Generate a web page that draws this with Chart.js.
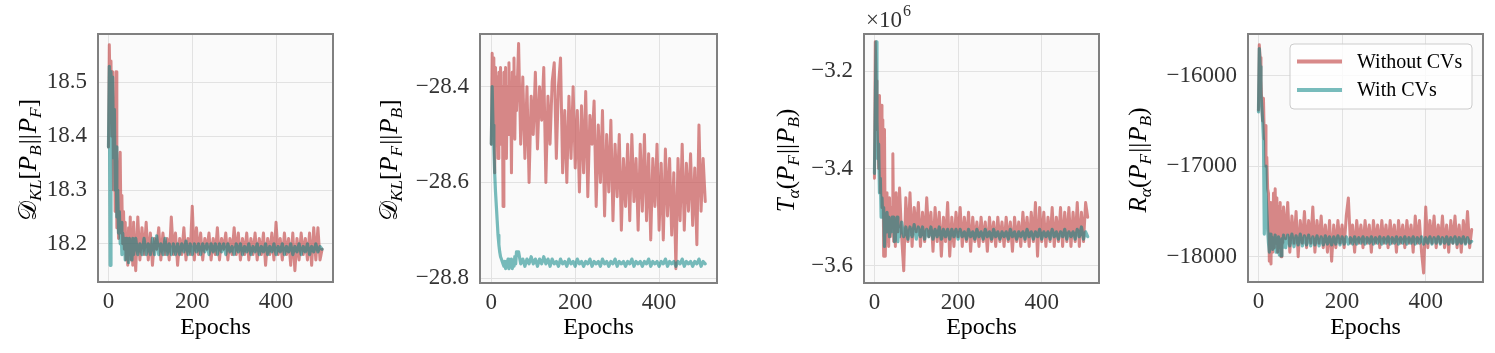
<!DOCTYPE html>
<html><head><meta charset="utf-8">
<script src="https://cdn.jsdelivr.net/npm/chart.js@4.4.1/dist/chart.umd.min.js"></script>
<style>
html,body{margin:0;padding:0;background:#fff;}
#wrap{position:relative;width:1495px;height:353px;overflow:hidden;background:#fff;}
canvas{position:absolute;top:0;}
</style></head><body>
<div id="wrap">
<canvas id="c1" width="345" height="353" style="left:0px;width:345px;height:353px"></canvas>
<canvas id="c2" width="360" height="353" style="left:370px;width:360px;height:353px"></canvas>
<canvas id="c3" width="370" height="353" style="left:740px;width:370px;height:353px"></canvas>
<canvas id="c4" width="375" height="353" style="left:1120px;width:375px;height:353px"></canvas>
</div>
<script>
// ---------- data ----------
const epochs = [0,2,4,6,8,10,12,14,16,18,20,22,24,26,28,30,32,34,36,38,40,42,44,46,48,50,52,54,56,58,60,
65,70,75,80,85,90,95,100,105,110,
115,120,125,130,135,140,145,150,155,160,
165,170,175,180,185,190,195,200,205,210,
215,220,225,230,235,240,245,250,255,260,
265,270,275,280,285,290,295,300,305,310,
315,320,325,330,335,340,345,350,355,360,
365,370,375,380,385,390,395,400,405,410,
415,420,425,430,435,440,445,450,455,460,
465,470,475,480,485,490,495,500,505,510];

const seriesLabels = ['Without CVs', 'With CVs'];

// Panel 1: D_KL[P_B||P_F]
const klBF_without = [18.38,18.57,18.48,18.54,18.40,18.52,18.30,18.45,18.26,18.52,
18.23,18.30,18.21,18.33,18.37,18.22,18.29,18.20,18.26,18.19,
18.24,18.17,18.22,18.16,18.23,18.18,18.25,18.17,18.21,18.16,18.24,
18.15,18.25,18.17,18.23,18.18,18.24,18.17,18.22,18.16,18.21,
18.19,18.23,18.17,18.22,18.18,18.21,18.17,18.25,18.18,18.22,
18.16,18.21,18.18,18.23,18.17,18.21,18.18,18.27,18.17,18.23,
18.18,18.22,18.17,18.21,18.19,18.22,18.17,18.21,18.18,18.23,
18.17,18.21,18.19,18.22,18.17,18.21,18.18,18.23,18.18,18.22,
18.17,18.21,18.18,18.22,18.17,18.21,18.18,18.22,18.17,18.21,
18.18,18.22,18.16,18.21,18.18,18.22,18.17,18.24,18.18,18.21,
18.17,18.22,18.18,18.21,18.16,18.22,18.15,18.21,18.17,18.22,
18.18,18.21,18.17,18.22,18.16,18.23,18.17,18.23,18.17,18.19];
const klBF_with = [18.38,18.53,18.16,18.52,18.44,18.51,18.36,18.45,18.30,18.38,
18.25,18.30,18.22,18.26,18.20,18.24,18.18,18.22,18.19,18.21,
18.17,18.21,18.18,18.20,18.165,18.21,18.18,18.20,18.17,18.21,18.18,
18.21,18.18,18.20,18.18,18.21,18.18,18.20,18.18,18.21,18.18,
18.215,18.18,18.20,18.18,18.21,18.18,18.20,18.18,18.20,18.18,
18.20,18.18,18.20,18.185,18.205,18.18,18.20,18.18,18.20,18.185,
18.20,18.18,18.20,18.185,18.20,18.18,18.20,18.185,18.20,18.18,
18.20,18.185,18.20,18.18,18.20,18.185,18.195,18.18,18.20,18.185,
18.20,18.18,18.195,18.185,18.20,18.18,18.195,18.185,18.20,18.18,
18.195,18.185,18.20,18.18,18.195,18.185,18.20,18.18,18.195,18.185,
18.20,18.18,18.195,18.185,18.20,18.18,18.195,18.185,18.20,18.18,
18.195,18.185,18.20,18.18,18.195,18.185,18.20,18.185,18.195,18.19];

// Panel 2: D_KL[P_F||P_B]
const klFB_without = [-28.52,-28.33,-28.45,-28.34,-28.58,-28.36,-28.50,-28.38,-28.55,-28.37,
-28.47,-28.36,-28.52,-28.40,-28.65,-28.37,-28.49,-28.36,-28.55,-28.40,
-28.50,-28.35,-28.47,-28.39,-28.58,-28.37,-28.46,-28.34,-28.51,-28.38,-28.45,
-28.31,-28.52,-28.38,-28.55,-28.40,-28.60,-28.42,-28.50,-28.37,-28.53,
-28.40,-28.47,-28.36,-28.60,-28.42,-28.52,-28.39,-28.35,-28.55,-28.40,
-28.34,-28.58,-28.45,-28.60,-28.42,-28.55,-28.40,-28.57,-28.45,-28.62,
-28.44,-28.58,-28.41,-28.63,-28.46,-28.52,-28.43,-28.65,-28.48,-28.60,
-28.45,-28.67,-28.50,-28.62,-28.47,-28.68,-28.52,-28.63,-28.50,-28.70,
-28.55,-28.65,-28.52,-28.68,-28.50,-28.64,-28.55,-28.70,-28.52,-28.66,
-28.50,-28.68,-28.54,-28.72,-28.55,-28.65,-28.52,-28.70,-28.56,-28.72,
-28.53,-28.67,-28.55,-28.71,-28.58,-28.78,-28.55,-28.68,-28.52,-28.70,
-28.56,-28.66,-28.54,-28.69,-28.57,-28.73,-28.48,-28.66,-28.55,-28.64];
const klFB_with = [-28.52,-28.40,-28.48,-28.53,-28.58,-28.62,-28.65,-28.68,-28.71,-28.73,
-28.745,-28.755,-28.76,-28.765,-28.77,-28.775,-28.765,-28.78,-28.765,-28.775,
-28.76,-28.78,-28.765,-28.775,-28.76,-28.78,-28.765,-28.775,-28.755,-28.77,-28.745,
-28.745,-28.77,-28.76,-28.775,-28.76,-28.77,-28.755,-28.77,-28.76,-28.775,
-28.76,-28.77,-28.755,-28.77,-28.76,-28.775,-28.76,-28.77,-28.765,-28.775,
-28.76,-28.77,-28.765,-28.775,-28.76,-28.77,-28.765,-28.775,-28.76,-28.77,
-28.765,-28.775,-28.765,-28.77,-28.76,-28.775,-28.765,-28.77,-28.765,-28.775,
-28.76,-28.77,-28.765,-28.775,-28.765,-28.77,-28.76,-28.775,-28.765,-28.77,
-28.765,-28.775,-28.765,-28.77,-28.76,-28.775,-28.765,-28.77,-28.765,-28.775,
-28.765,-28.77,-28.76,-28.775,-28.765,-28.77,-28.765,-28.775,-28.765,-28.77,
-28.76,-28.775,-28.765,-28.77,-28.765,-28.775,-28.765,-28.77,-28.76,-28.775,
-28.765,-28.77,-28.765,-28.775,-28.765,-28.77,-28.76,-28.775,-28.765,-28.77];

// Panel 3: T_alpha(P_F||P_B), in units of 1e6
const tsallis_without = [-3.42,-3.14,-3.22,-3.32,-3.28,-3.40,-3.25,-3.45,-3.27,-3.48,
-3.30,-3.58,-3.32,-3.58,-3.45,-3.55,-3.47,-3.56,-3.46,-3.54,
-3.48,-3.52,-3.37,-3.55,-3.47,-3.56,-3.45,-3.53,-3.46,-3.52,-3.44,
-3.54,-3.61,-3.46,-3.55,-3.45,-3.56,-3.48,-3.53,-3.47,-3.56,
-3.49,-3.55,-3.46,-3.54,-3.49,-3.57,-3.48,-3.55,-3.49,-3.58,
-3.50,-3.55,-3.47,-3.58,-3.50,-3.56,-3.49,-3.54,-3.48,-3.56,
-3.50,-3.55,-3.49,-3.57,-3.50,-3.55,-3.51,-3.56,-3.50,-3.55,
-3.51,-3.57,-3.50,-3.55,-3.51,-3.56,-3.50,-3.55,-3.51,-3.56,
-3.50,-3.55,-3.51,-3.57,-3.50,-3.55,-3.51,-3.56,-3.49,-3.55,
-3.50,-3.56,-3.49,-3.55,-3.47,-3.58,-3.48,-3.55,-3.49,-3.56,
-3.50,-3.55,-3.48,-3.56,-3.50,-3.55,-3.48,-3.56,-3.49,-3.55,
-3.48,-3.56,-3.49,-3.55,-3.47,-3.56,-3.49,-3.55,-3.47,-3.50];
const tsallis_with = [-3.41,-3.27,-3.14,-3.30,-3.38,-3.35,-3.45,-3.42,-3.50,-3.46,
-3.50,-3.48,-3.56,-3.50,-3.53,-3.49,-3.52,-3.50,-3.54,-3.51,
-3.53,-3.50,-3.52,-3.50,-3.55,-3.51,-3.53,-3.50,-3.55,-3.52,-3.54,
-3.51,-3.54,-3.52,-3.545,-3.52,-3.54,-3.515,-3.545,-3.52,-3.54,
-3.52,-3.545,-3.525,-3.54,-3.52,-3.545,-3.525,-3.54,-3.52,-3.545,
-3.525,-3.54,-3.525,-3.545,-3.525,-3.54,-3.525,-3.545,-3.525,-3.54,
-3.53,-3.545,-3.525,-3.54,-3.53,-3.545,-3.525,-3.54,-3.53,-3.545,
-3.525,-3.54,-3.53,-3.545,-3.525,-3.54,-3.53,-3.545,-3.53,-3.54,
-3.53,-3.545,-3.525,-3.54,-3.53,-3.545,-3.53,-3.54,-3.53,-3.545,
-3.525,-3.54,-3.53,-3.545,-3.53,-3.54,-3.525,-3.545,-3.53,-3.54,
-3.53,-3.545,-3.525,-3.54,-3.53,-3.545,-3.53,-3.54,-3.525,-3.545,
-3.53,-3.54,-3.53,-3.545,-3.525,-3.54,-3.52,-3.545,-3.53,-3.54];

// Panel 4: R_alpha(P_F||P_B)
const renyi_without = [-16380,-15660,-15800,-16050,-16300,-16500,-16250,-16700,-16550,-17000,
-16900,-17250,-17300,-18050,-17400,-18080,-17450,-17950,-17300,-17900,
-17250,-17850,-17350,-17950,-17450,-17900,-17400,-18000,-17500,-17850,-17450,
-17800,-17400,-17950,-17550,-17850,-17500,-18000,-17600,-17850,-17500,
-17900,-17600,-17850,-17450,-17950,-17600,-17850,-17550,-17900,-17650,
-17950,-17600,-18050,-17650,-17900,-17600,-17850,-17650,-17900,-17550,
-17350,-17850,-17650,-17950,-17600,-17850,-17650,-17900,-17600,-17850,
-17650,-17950,-17600,-17850,-17650,-17900,-17600,-17850,-17650,-17900,
-17600,-17850,-17650,-17950,-17600,-17850,-17650,-17900,-17600,-17850,
-17650,-17950,-17550,-17850,-17600,-17950,-18180,-17450,-17900,-17600,
-17850,-17550,-17900,-17650,-17850,-17550,-17900,-17650,-17950,-17600,
-17850,-17550,-17900,-17650,-17950,-17600,-17850,-17500,-17900,-17700];
const renyi_with = [-16400,-15700,-15900,-16200,-16350,-16500,-16700,-17750,-17000,-17300,
-17500,-17700,-17850,-17950,-17750,-17900,-17780,-17920,-17800,-17900,
-17760,-17950,-17800,-17900,-17780,-17980,-17820,-17990,-17800,-17900,-17760,
-17900,-17760,-17880,-17750,-17890,-17770,-17870,-17750,-17880,-17770,
-17870,-17760,-17880,-17780,-17870,-17770,-17880,-17780,-17870,-17770,
-17860,-17780,-17870,-17780,-17860,-17770,-17870,-17780,-17860,-17780,
-17860,-17790,-17860,-17780,-17860,-17790,-17850,-17780,-17860,-17790,
-17850,-17780,-17860,-17790,-17850,-17780,-17860,-17790,-17850,-17780,
-17860,-17790,-17850,-17780,-17860,-17790,-17850,-17780,-17860,-17790,
-17850,-17780,-17860,-17790,-17850,-17780,-17860,-17790,-17850,-17780,
-17860,-17790,-17850,-17780,-17860,-17790,-17850,-17780,-17860,-17790,
-17850,-17780,-17860,-17790,-17850,-17780,-17860,-17790,-17850,-17830];

// ticks
const xTicks = [0, 200, 400];
const xTickLabels = ['0', '200', '400'];
const yTicks1 = [18.2, 18.3, 18.4, 18.5];
const yTickLabels1 = ['18.2', '18.3', '18.4', '18.5'];
const yTicks2 = [-28.8, -28.6, -28.4];
const yTickLabels2 = ['\u221228.8', '\u221228.6', '\u221228.4'];
const yTicks3 = [-3.6, -3.4, -3.2];
const yTickLabels3 = ['\u22123.6', '\u22123.4', '\u22123.2'];
const yTicks4 = [-18000, -17000, -16000];
const yTickLabels4 = ['\u221218000', '\u221217000', '\u221216000'];

// ---------- style ----------
const RED = 'rgba(194,70,70,0.64)';
const TEAL = 'rgba(0,128,128,0.53)';
const SERIF = '"Liberation Serif", "Times New Roman", serif';

function drawRich(ctx, segs, cx, cy, size) {
  ctx.save();
  ctx.translate(cx, cy);
  ctx.rotate(-Math.PI / 2);
  let total = 0;
  const items = segs.map(s => {
    const fs = s.sub ? size * 0.7 : size;
    const font = (s.it ? 'italic ' : '') + fs + 'px ' + SERIF;
    ctx.font = font;
    const w = ctx.measureText(s.t).width + (s.gap || 0);
    total += w;
    return { t: s.t, sub: s.sub, font, w, gap: s.gap || 0 };
  });
  let x = -total / 2;
  ctx.fillStyle = '#000';
  ctx.textBaseline = 'alphabetic';
  ctx.textAlign = 'left';
  items.forEach(s => {
    ctx.font = s.font;
    ctx.fillText(s.t, x + s.gap / 2, s.sub ? size * 0.55 : size * 0.35);
    x += s.w;
  });
  ctx.restore();
}

const decor = {
  id: 'panelDecor',
  beforeDraw(chart) {
    const { ctx, chartArea: a } = chart;
    ctx.save();
    ctx.fillStyle = '#fafafa';
    ctx.fillRect(a.left, a.top, a.right - a.left, a.bottom - a.top);
    ctx.restore();
  },
  afterDraw(chart) {
    const { ctx, chartArea: a } = chart;
    const cfg = panelCfg[chart.canvas.id];
    ctx.save();
    ctx.strokeStyle = '#808080';
    ctx.lineWidth = 2;
    ctx.strokeRect(a.left, a.top, a.right - a.left, a.bottom - a.top);
    ctx.restore();
    drawRich(ctx, cfg.title, cfg.titleX, (a.top + a.bottom) / 2 + 2, 25);
    if (cfg.offsetText) {
      ctx.save();
      ctx.fillStyle = '#333';
      ctx.textBaseline = 'alphabetic';
      ctx.font = '23px ' + SERIF;
      const x0 = a.left + 2;
      ctx.fillText('\u00d710', x0, 27);
      const w = ctx.measureText('\u00d710').width;
      ctx.font = '16px ' + SERIF;
      ctx.fillText('6', x0 + w + 1, 16);
      ctx.restore();
    }
    if (cfg.legend) {
      const bx = a.right - 11 - 182, by = a.top + 10, bw = 182, bh = 65;
      ctx.save();
      ctx.beginPath();
      if (ctx.roundRect) ctx.roundRect(bx, by, bw, bh, 4); else ctx.rect(bx, by, bw, bh);
      ctx.fillStyle = 'rgba(255,255,255,0.8)';
      ctx.fill();
      ctx.strokeStyle = '#cccccc';
      ctx.lineWidth = 1;
      ctx.stroke();
      const ds = chart.data.datasets.slice().sort((p, q) => q.order - p.order);
      ds.forEach((d, i) => {
        const yy = by + 17.5 + i * 28.5;
        ctx.strokeStyle = d.borderColor;
        ctx.lineWidth = 4;
        ctx.beginPath();
        ctx.moveTo(bx + 7, yy);
        ctx.lineTo(bx + 52, yy);
        ctx.stroke();
        ctx.fillStyle = '#000';
        ctx.font = '20px ' + SERIF;
        ctx.textBaseline = 'middle';
        ctx.fillText(d.label, bx + 67, yy + 1);
      });
      ctx.restore();
    }
  }
};

const P = (t, extra) => Object.assign({ t }, extra || {});
const panelCfg = {
  c1: { without: klBF_without, withCV: klBF_with, yMin: 18.129, yMax: 18.59, yTicks: yTicks1, yLabels: yTickLabels1,
        yW: 98, rPad: 12, xH: 71, xMin: -25, xMax: 536, titleX: 27,
        title: [P('\ud835\udc9f'), P('KL', {it: 1, sub: 1}), P('['), P('P', {it: 1}), P('B', {it: 1, sub: 1}), P('||', {gap: 2}), P('P', {it: 1}), P('F', {it: 1, sub: 1}), P(']')] },
  c2: { without: klFB_without, withCV: klFB_with, yMin: -28.81, yMax: -28.29, yTicks: yTicks2, yLabels: yTickLabels2,
        yW: 110, rPad: 13, xH: 70, xMin: -27, xMax: 538, titleX: 18,
        title: [P('\ud835\udc9f'), P('KL', {it: 1, sub: 1}), P('['), P('P', {it: 1}), P('F', {it: 1, sub: 1}), P('||', {gap: 2}), P('P', {it: 1}), P('B', {it: 1, sub: 1}), P(']')] },
  c3: { without: tsallis_without, withCV: tsallis_with, yMin: -3.635, yMax: -3.124, yTicks: yTicks3, yLabels: yTickLabels3,
        yW: 124, rPad: 11, xH: 70, xMin: -25, xMax: 537, titleX: 45, offsetText: true,
        title: [P('T', {it: 1}), P('\u03b1', {it: 1, sub: 1}), P('('), P('P', {it: 1}), P('F', {it: 1, sub: 1}), P('||', {gap: 2}), P('P', {it: 1}), P('B', {it: 1, sub: 1}), P(')')] },
  c4: { without: renyi_without, withCV: renyi_with, yMin: -18279, yMax: -15540, yTicks: yTicks4, yLabels: yTickLabels4,
        yW: 128, rPad: 12, xH: 71, xMin: -25, xMax: 537, titleX: 17, legend: true,
        title: [P('R', {it: 1}), P('\u03b1', {it: 1, sub: 1}), P('('), P('P', {it: 1}), P('F', {it: 1, sub: 1}), P('||', {gap: 2}), P('P', {it: 1}), P('B', {it: 1, sub: 1}), P(')')] }
};

Object.keys(panelCfg).forEach(id => {
  const c = panelCfg[id];
  const toPts = arr => epochs.map((e, i) => ({ x: e, y: arr[i] }));
  new Chart(document.getElementById(id), {
    type: 'line',
    data: {
      datasets: [
        { label: seriesLabels[0], data: toPts(c.without), borderColor: RED, borderWidth: 3, order: 2,
          pointRadius: 0, tension: 0, borderJoinStyle: 'round', borderCapStyle: 'round', fill: false },
        { label: seriesLabels[1], data: toPts(c.withCV), borderColor: TEAL, borderWidth: 3.2, order: 1,
          pointRadius: 0, tension: 0, borderJoinStyle: 'round', borderCapStyle: 'round', fill: false }
      ]
    },
    options: {
      responsive: false,
      animation: false,
      events: [],
      layout: { padding: { left: 0, right: c.rPad, top: 34, bottom: 0 } },
      plugins: { legend: { display: false }, tooltip: { enabled: false } },
      scales: {
        x: {
          type: 'linear', min: c.xMin, max: c.xMax,
          afterBuildTicks: s => { s.ticks = xTicks.map(v => ({ value: v })); },
          afterFit: s => { s.height = c.xH; },
          ticks: { autoSkip: false, maxRotation: 0, padding: 6, color: '#333',
                   font: { family: SERIF, size: 23 }, callback: (v, i) => xTickLabels[i] },
          grid: { color: '#e2e2e2', lineWidth: 1, drawTicks: false },
          border: { display: false },
          title: { display: true, text: 'Epochs', color: '#000', font: { family: SERIF, size: 24 }, padding: { top: 0, bottom: 11 } }
        },
        y: {
          type: 'linear', min: c.yMin, max: c.yMax,
          afterBuildTicks: s => { s.ticks = c.yTicks.map(v => ({ value: v })); },
          afterFit: s => { s.width = c.yW; },
          ticks: { autoSkip: false, padding: 11, color: '#333',
                   font: { family: SERIF, size: 23 }, callback: (v, i) => c.yLabels[i] },
          grid: { color: '#e2e2e2', lineWidth: 1, drawTicks: false },
          border: { display: false }
        }
      }
    },
    plugins: [decor]
  });
});
</script>
</body></html>
